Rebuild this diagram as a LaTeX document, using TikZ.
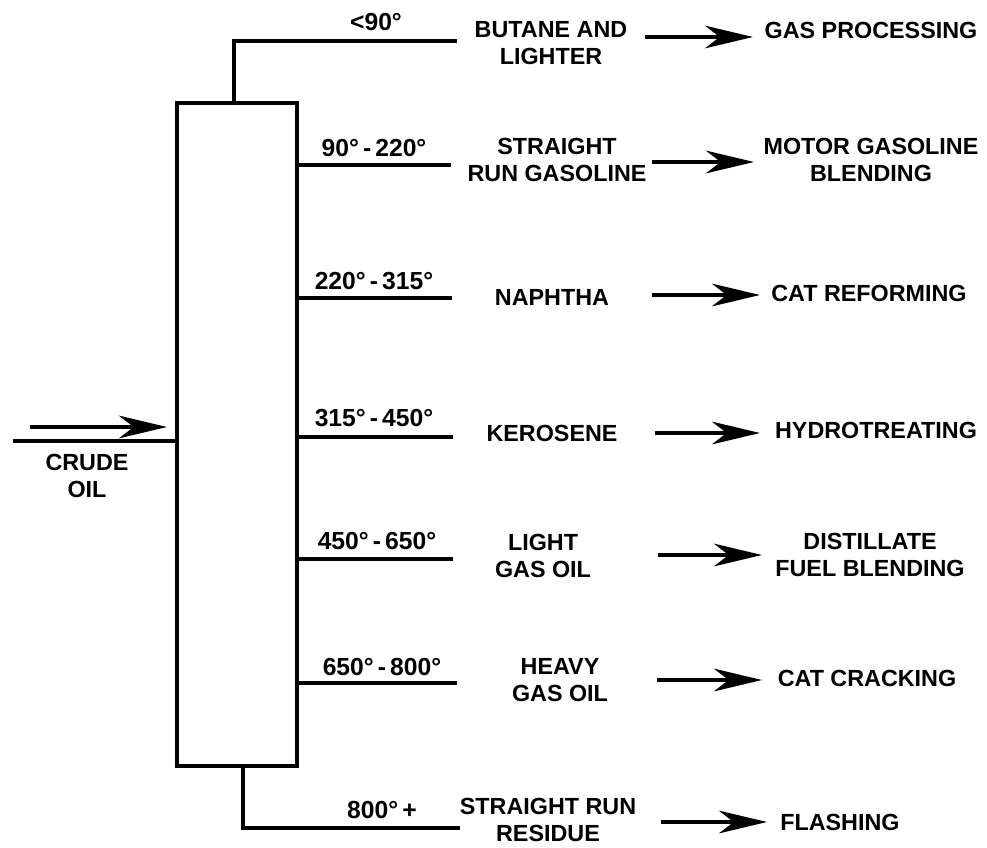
\documentclass[tikz,border=0pt]{standalone}
\usepackage{fontspec}
\setmainfont{Liberation Sans}
\usetikzlibrary{arrows.meta}
\begin{document}
\begin{tikzpicture}[x=0.75pt,y=-0.75pt,
  pipe/.style={line width=2.8pt},
  flow/.style={line width=3.2pt,-{Stealth[length=36pt,width=17pt,inset=11pt]}},
  lbl/.style={font=\fontsize{17.5}{20}\selectfont\bfseries, inner sep=0pt, align=center},
  tmp/.style={font=\fontsize{18.5}{21}\selectfont\bfseries, inner sep=0pt}]
\useasboundingbox (0,0) rectangle (987,848);
% column
\node[draw, line width=3pt, minimum width=90pt, minimum height=497pt, inner sep=0pt] (col) at (237,434.5) {};
% overhead
\coordinate (topL) at (234,41);
\coordinate (topR) at (457,41);
\draw[pipe] (col.north -| topL) -- (topL) -- (topR);
% side draws
\coordinate (s2) at (451,165);
\coordinate (s3) at (452,298);
\coordinate (s4) at (453,437);
\coordinate (s5) at (453,559);
\coordinate (s6) at (457,683);
\draw[pipe] (col.east |- s2) -- (s2);
\draw[pipe] (col.east |- s3) -- (s3);
\draw[pipe] (col.east |- s4) -- (s4);
\draw[pipe] (col.east |- s5) -- (s5);
\draw[pipe] (col.east |- s6) -- (s6);
% bottoms
\coordinate (botL) at (243,828);
\coordinate (botR) at (460,828);
\draw[pipe] (col.south -| botL) -- (botL) -- (botR);
% feed
\coordinate (feed) at (13,441);
\draw[pipe] (feed) -- (col.west |- feed);
\coordinate (fa) at (30,427);
\coordinate (fb) at (167,427);
\draw[flow] (fa) -- (fb);
\node[lbl] (crude) at (87,476) {CRUDE\\OIL};
% temperature labels
\node[tmp] (t1) at (376,22) {<90°};
\node[tmp] (t2) at (374,148) {90°\,-\,220°};
\node[tmp] (t3) at (374,281) {220°\,-\,315°};
\node[tmp] (t4) at (374,418) {315°\,-\,450°};
\node[tmp] (t5) at (377,541) {450°\,-\,650°};
\node[tmp] (t6) at (382,667) {650°\,-\,800°};
\node[tmp] (t7) at (382,810) {800°\,+};
% products
\node[lbl] (p1) at (551,43) {BUTANE AND\\LIGHTER};
\node[lbl] (p2) at (557,160) {STRAIGHT\\RUN GASOLINE};
\node[lbl] (p3) at (552,297) {NAPHTHA};
\node[lbl] (p4) at (552,433) {KEROSENE};
\node[lbl] (p5) at (543,556) {LIGHT\\GAS OIL};
\node[lbl] (p6) at (560,680) {HEAVY\\GAS OIL};
\node[lbl] (p7) at (548,820) {STRAIGHT RUN\\RESIDUE};
% destinations
\node[lbl] (q1) at (871,30) {GAS PROCESSING};
\node[lbl] (q2) at (871,160) {MOTOR GASOLINE\\BLENDING};
\node[lbl] (q3) at (869,293) {CAT REFORMING};
\node[lbl] (q4) at (876,430) {HYDROTREATING};
\node[lbl] (q5) at (870,555) {DISTILLATE\\FUEL BLENDING};
\node[lbl] (q6) at (867,678) {CAT CRACKING};
\node[lbl, anchor=west] (q7) at (780,822) {FLASHING};
% arrows
\coordinate (a1) at (645,37);  \coordinate (b1) at (753,37);
\coordinate (a2) at (652,162); \coordinate (b2) at (754,162);
\coordinate (a3) at (652,295); \coordinate (b3) at (760,295);
\coordinate (a4) at (655,433); \coordinate (b4) at (760,433);
\coordinate (a5) at (658,555); \coordinate (b5) at (762,555);
\coordinate (a6) at (657,680); \coordinate (b6) at (762,680);
\coordinate (a7) at (661,822); \coordinate (b7) at (767,822);
\draw[flow] (a1) -- (b1);
\draw[flow] (a2) -- (b2);
\draw[flow] (a3) -- (b3);
\draw[flow] (a4) -- (b4);
\draw[flow] (a5) -- (b5);
\draw[flow] (a6) -- (b6);
\draw[flow] (a7) -- (b7);
\end{tikzpicture}
\end{document}
